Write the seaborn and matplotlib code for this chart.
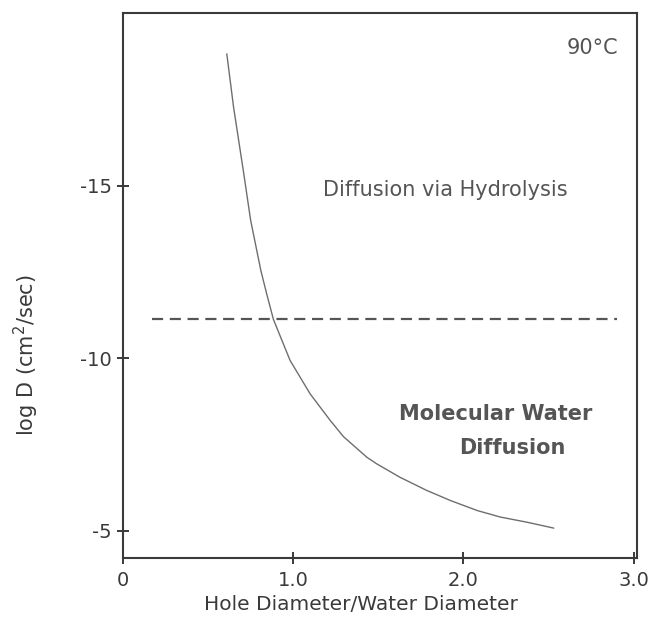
import matplotlib
matplotlib.use("Agg")
import matplotlib.pyplot as plt
import pandas as pd
import seaborn as sns

# curve: hole/water diameter ratio vs log D
ratio = [0.61, 0.65, 0.71, 0.75, 0.81, 0.845, 0.884, 0.982, 1.10, 1.218, 1.296,
         1.434, 1.492, 1.629, 1.786, 1.924, 2.081, 2.218, 2.375, 2.531]
log_d = [-18.82, -17.27, -15.34, -14.0, -12.54, -11.85, -11.12, -9.93, -8.96, -8.19,
         -7.72, -7.12, -6.93, -6.54, -6.16, -5.87, -5.58, -5.39, -5.24, -5.07]

# horizontal dashed boundary
boundary_x = [0.17, 2.9]
boundary_y = [-11.14, -11.14]

x_ticks = [0, 1, 2, 3]
x_tick_labels = ["0", "1.0", "2.0", "3.0"]
y_ticks = [-15, -10, -5]
y_tick_labels = ["-15", "-10", "-5"]

sns.set_style("white")
plt.rcParams.update({
    "font.family": ["DejaVu Sans"],
    "mathtext.default": "regular",
})
INK = "#3a3a3a"

fig = plt.figure(figsize=(6.54, 6.25), dpi=100)
ax = fig.add_axes([0.188, 0.107, 0.786, 0.872])

curve = pd.DataFrame({"ratio": ratio, "log_d": log_d})
sns.lineplot(data=curve, x="ratio", y="log_d", ax=ax, color="#6e6e6e", lw=1.0,
             sort=False, estimator=None)
sns.lineplot(x=boundary_x, y=boundary_y, ax=ax, color="#555555", lw=1.6)
ax.lines[-1].set_dashes([5, 3])

ax.set_xlim(0, 3.02)
ax.set_ylim(-4.2, -20)

ax.set_xticks(x_ticks)
ax.set_xticklabels(x_tick_labels)
ax.set_yticks(y_ticks)
ax.set_yticklabels(y_tick_labels)
ax.tick_params(bottom=True, left=True, direction="inout", length=8, width=1.4,
               color=INK, labelsize=14, labelcolor=INK, pad=4)
ax.tick_params(axis="x", pad=5)

for s in ax.spines.values():
    s.set_color(INK)
    s.set_linewidth(1.5)

ax.set_xlabel("Hole Diameter/Water Diameter", fontsize=14.5, color=INK,
              fontweight="medium")
ax.xaxis.label.set_va("baseline")
ax.xaxis.set_label_coords(0.463, -0.095)
ax.set_ylabel("log D (cm$^{2}$/sec)", fontsize=15, color=INK,
              fontweight="medium")
ax.yaxis.set_label_coords(-0.16, 0.372)

txt = dict(fontsize=15, color="#555555", ha="center", va="center")
ax.text(2.91, -19.0, "90°C", ha="right", va="center", fontsize=15,
        color="#555555")
ax.text(1.894, -14.86, "Diffusion via Hydrolysis", **txt)
ax.text(2.19, -8.39, "Molecular Water", fontweight="bold", **txt)
ax.text(2.29, -7.38, "Diffusion", fontweight="bold", **txt)

fig.savefig("out.png", dpi=100)
